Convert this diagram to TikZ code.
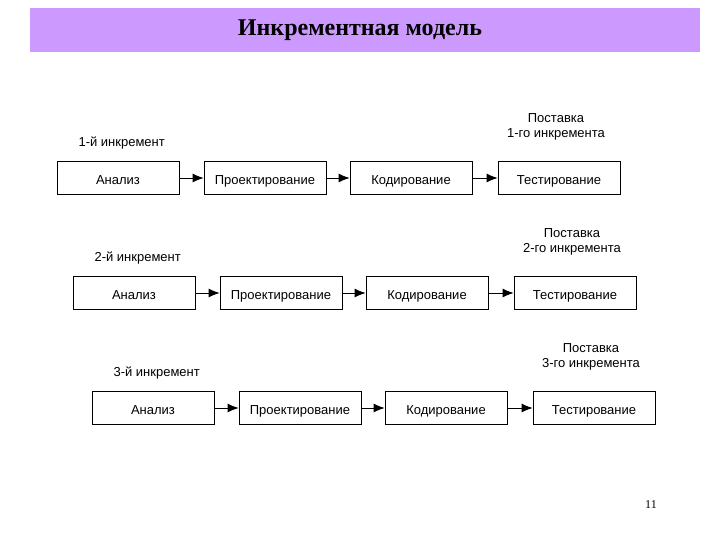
\documentclass[tikz,border=0pt]{standalone}
\usepackage{fontspec}
\setmainfont{Liberation Sans}
\newfontfamily\titlefont{Liberation Serif}
\usetikzlibrary{positioning,arrows.meta}
\definecolor{barlilac}{RGB}{204,153,255}
\begin{document}
\begin{tikzpicture}[x=1pt,y=-1pt,>={Latex[length=11pt,width=9pt]},
    stage/.style={draw,thick,minimum width=122pt,minimum height=33pt,inner sep=0pt,
        text height=13pt,text depth=0pt,font=\fontsize{13}{15}\selectfont},
    lbl/.style={font=\fontsize{13}{15}\selectfont,align=center}]

    \useasboundingbox (0,0) rectangle (720,540);
    \fill[barlilac] (30,8) rectangle (700,52);
    \node[font=\titlefont\bfseries\fontsize{24}{28}\selectfont] (T) at (360,30) {Инкрементная модель};

    \foreach \n/\dx/\dy in {1/0/0, 2/16/115, 3/35/230}{
        \begin{scope}[shift={(\dx,\dy)}]
        \node[lbl,anchor=west] (L\n) at (75,143) {\n-й инкремент};
        \node[stage] (A\n) at (118,178) {Анализ};
        \node[stage] (P\n) at (265,178) {Проектирование};
        \node[stage] (K\n) at (411,178) {Кодирование};
        \node[stage] (S\n) at (559,178) {Тестирование};
        \node[lbl] (D\n) at (556,127) {Поставка\\\n-го инкремента};
        \draw[->,thick] (A\n) -- (P\n);
        \draw[->,thick] (P\n) -- (K\n);
        \draw[->,thick] (K\n) -- (S\n);
        \end{scope}
    }

    \node[font=\titlefont\fontsize{12}{14}\selectfont] (N) at (651,505) {11};
\end{tikzpicture}
\end{document}
